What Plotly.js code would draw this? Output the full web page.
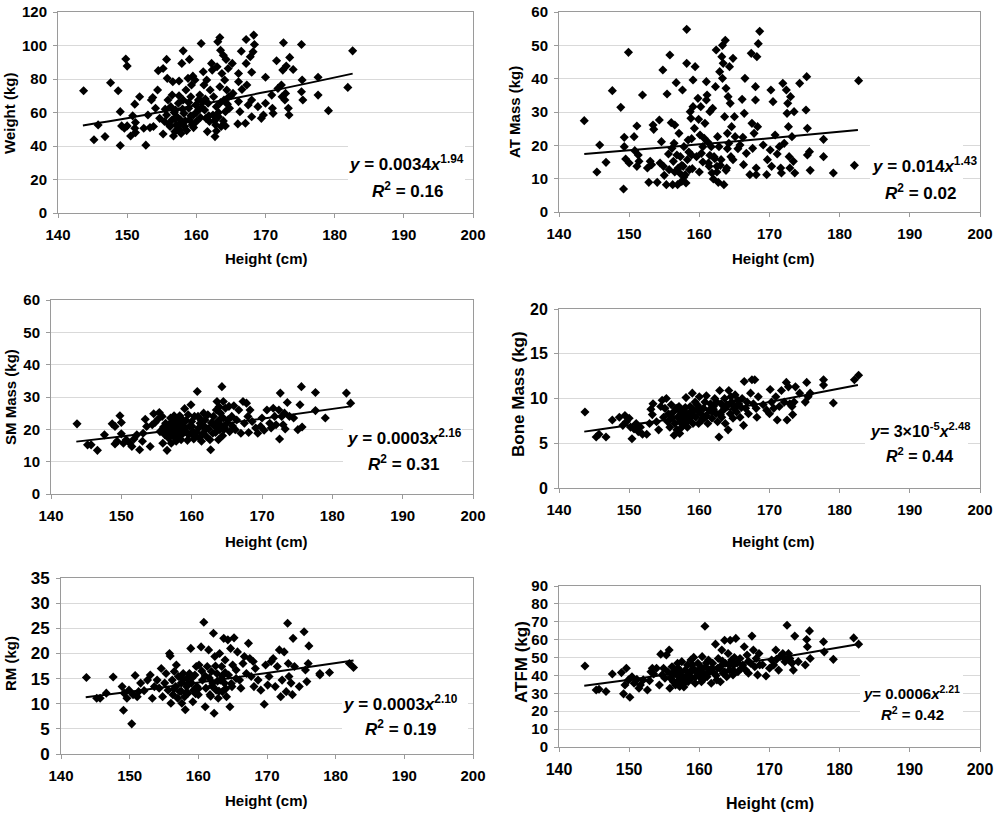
<!DOCTYPE html>
<html><head><meta charset="utf-8">
<script src="https://cdn.plot.ly/plotly-3.0.1.min.js"></script>
<style>html,body{margin:0;padding:0;background:#fff;} #chart{width:997px;height:816px;}</style>
</head><body><div id="chart"></div>
<script>
// ---------- Data ----------
const weightX = [143.7,145.2,145.8,146.8,147.6,148.7,149.0,149.0,149.2,149.8,150.0,149.6,150.0,150.5,150.8,151.1,151.1,151.2,151.2,151.8,152.4,152.7,153.0,153.3,153.5,153.7,153.8,154.1,154.4,154.5,154.7,155.2,155.2,155.4,155.7,155.7,155.8,155.9,156.2,156.3,156.5,156.5,156.6,156.7,156.9,157.0,157.1,157.2,157.4,157.5,157.6,157.7,157.8,157.9,158.1,158.1,158.2,158.3,158.5,158.6,158.8,158.9,159.0,159.0,159.2,159.3,159.4,159.5,159.6,159.8,159.9,160.0,160.3,160.3,160.5,160.7,160.8,161.0,161.1,161.2,161.4,161.5,161.6,161.7,161.9,162.0,162.2,162.3,162.4,162.5,162.7,162.8,162.9,163.0,163.1,163.2,163.4,163.4,163.5,163.6,163.7,163.9,164.0,164.1,164.2,164.3,164.4,164.6,164.7,164.8,165.2,165.3,166.1,166.1,166.1,166.0,166.3,166.5,166.6,167.1,167.2,167.2,167.3,167.5,167.8,168.0,168.0,168.0,168.2,168.3,168.4,168.9,169.4,169.7,170.0,170.0,170.9,171.0,171.1,171.6,171.8,172.3,172.4,172.5,172.6,172.8,172.9,173.0,173.3,173.4,173.5,174.0,175.2,175.2,175.3,175.4,177.6,177.6,179.1,181.9,182.6,
  157.3,157.8,158.4,158.0,157.0,156.0,159.2,160.0,160.8,161.3,162.6,163.2,163.9,164.5,165.0,159.6,156.8,158.9,161.8,162.9,164.2,160.6,155.5,157.5,163.5];
const weightY = [73,43.7,52.6,45.6,77.8,73,60.5,40.3,52,91.9,87.7,50.6,52,46,58,65,50.6,48,54,69.4,50.6,40.5,58.5,51,67.5,69,51.6,62.5,73.4,85,56.5,47.2,86.3,54.6,91.7,58.5,80.4,67.5,51.6,63.5,55.6,70.4,78.4,46,48.6,61.5,52.6,57.5,65.5,78.8,49.6,55.6,53.6,89.3,96.8,67.5,59.5,51.6,73.4,49.2,80.4,62.5,91.7,55.6,69.4,76.4,52.6,81.7,58.5,79.4,64.5,54.6,67.5,61.5,70.4,101.2,66.5,84.3,76.4,61.5,56.5,79.4,48.6,65.5,54.6,73.4,89.3,85.3,58.5,69.4,45.6,52.6,63.5,87.3,102.2,57.5,104.8,75.4,97.2,51.6,83.3,94.2,67.5,79.4,60.5,91.7,73.4,86.3,69.4,62.5,89.3,71.4,78.4,66.5,83.3,53.2,60.5,96.6,73.8,53.6,103.6,89.3,76.4,64.5,93.3,67.5,84,57.5,96.2,106.2,100.6,63.5,56.5,58.5,81,65.5,70.4,62.5,59.5,90.9,74.4,76.4,69.4,85.3,101.6,67.5,71.4,87.7,62.5,58.5,92.9,85.7,100.6,72.4,79.4,67.5,81,70.4,61.1,75,96.8,
  50,47.5,55,62,56,53,58,60,63,68,55,60,55,65,70,51,60,66,58,49,52,57,62,70,66];

const atX = [143.6,145.4,145.8,146.7,147.6,148.8,149.2,149.3,149.3,149.5,149.9,150.0,150.7,150.8,151.1,151.1,151.3,151.4,151.9,152.6,152.8,153.0,153.2,153.4,153.5,154.0,154.3,154.4,154.6,154.8,154.9,155.0,155.3,155.4,155.6,155.7,155.8,156.0,156.1,156.2,156.3,156.4,156.5,156.7,156.8,156.9,157.0,157.1,157.2,157.3,157.5,157.6,157.7,157.8,158.0,158.1,158.2,158.2,158.3,158.4,158.6,158.7,158.8,158.9,159.1,159.1,159.3,159.4,159.6,159.8,159.9,160.0,160.1,160.2,160.3,160.5,160.7,160.8,161.0,161.0,161.1,161.3,161.4,161.5,161.7,161.8,161.9,162.0,162.1,162.3,162.4,162.5,162.6,162.7,162.8,162.9,163.1,163.2,163.3,163.3,163.4,163.5,163.6,163.7,163.8,163.9,164.0,164.1,164.2,164.3,164.4,164.5,164.6,164.8,164.8,165.0,165.1,165.8,166.1,166.2,166.3,166.4,166.5,166.7,167.2,167.4,167.5,167.6,167.8,168.0,168.0,168.1,168.2,168.3,168.4,168.6,168.1,169.1,169.6,169.7,170.1,170.2,170.3,170.5,170.8,171.1,171.4,171.6,171.7,171.9,172.1,172.4,172.5,172.6,172.7,172.8,172.9,173.0,173.2,173.4,173.5,173.6,174.3,175.2,175.3,175.4,175.4,175.7,175.8,177.7,177.7,179.1,182.1,182.7,
  156.5,157.5,158.5,159.0,160.5,161.5,162.5,163.0,164.0,157.8,162.2,161.2,158.9,163.8,165.5];
const atY = [27.4,12,20.1,14.9,36.4,31.4,6.9,19.6,22.4,15.9,47.9,14.7,22.6,18.4,25.8,13.7,17.1,15.2,35.1,13.2,8.9,15.2,14.2,26.1,24.8,8.9,27.6,14.7,21.1,42.6,13.7,11,8.2,35.4,17.4,12.7,47.1,26.8,19.1,8.2,15.2,20.6,26.1,38.8,17.1,8.2,13.2,23.6,11.7,16.6,9.2,36.6,13.7,19.6,11.2,8.7,54.8,44.6,15.7,21.6,12.7,30.1,28.1,17.1,39.6,31.6,25.1,43.6,16.6,34.1,27.8,12,23.1,31.6,17.6,19.6,22.1,26.6,33.6,39.1,35.1,14.7,13.7,30.1,19.6,11.7,31.1,9.9,16.6,37.6,48.6,13.7,22.6,8.9,19.6,42.1,15.7,46.6,50.0,40.1,44.6,8.2,28.6,51.5,37.1,13.2,23.6,34.6,20.6,43.6,32.6,16.6,25.6,15.7,46.1,28.6,22.6,20.1,33.8,22.4,14.2,29.6,40.1,17.6,11.2,47.6,26.6,19.1,23.6,33.6,37.6,11.2,46.6,25.6,50.5,54.2,13.2,20.1,11.2,15.7,18.6,36.6,13.7,33.1,23.1,17.4,19.6,13.2,11.7,38.6,20.6,36.6,29.6,32.6,25.6,16.6,13.2,34.6,22.6,15.2,30.1,11.7,38.6,30.6,40.6,17.1,25.1,18.1,12.5,21.8,16.6,11.7,14.0,39.4,
  12,14,18,13,15,17,12,14,19,10.5,16,21,22,12.5,19];

const smX = [143.7,145.2,145.7,146.6,147.6,148.7,149.1,149.1,149.4,149.8,150.0,150.0,150.3,150.7,151.2,151.5,151.8,152.2,152.6,153.0,153.1,153.4,153.6,154.1,154.4,154.6,154.8,155.2,155.4,155.5,155.8,155.9,156.0,156.2,156.3,156.5,156.6,156.7,156.9,157.0,157.1,157.2,157.3,157.4,157.5,157.7,157.8,157.9,158.1,158.2,158.3,158.4,158.5,158.6,158.8,159.0,159.1,159.2,159.4,159.6,159.7,159.9,160.0,160.2,160.4,160.5,160.8,160.9,161.0,161.1,161.2,161.4,161.6,161.8,161.9,162.1,162.3,162.4,162.6,162.7,162.9,163.0,163.1,163.3,163.5,163.6,163.7,163.8,164.0,164.1,164.2,164.3,164.5,164.5,164.7,164.8,165.0,165.3,165.4,165.7,166.0,166.2,166.4,166.7,167.0,167.3,167.5,167.8,168.0,168.1,168.3,168.6,169.1,169.4,169.8,170.0,170.3,170.7,171.1,171.3,171.6,171.8,172.0,172.4,172.5,172.6,172.8,173.0,173.2,173.3,173.6,173.9,174.5,175.1,175.4,175.6,175.7,177.6,177.6,179.0,182.0,182.6,
  156.0,156.8,157.5,158.0,158.7,159.3,160.0,160.7,161.3,162.0,162.8,163.4,164.0,164.6,165.2,157.8,159.5,161.7,163.9,165.8,163.2,164.4,160.3,158.9,157.0];
const smY = [21.7,15.2,15.2,13.5,18.3,21.7,20.9,15.5,16.3,24.2,22.1,18.6,15.7,16.8,15.7,14.7,17,18.3,13.7,16.3,18.8,23.1,20.9,14.7,21.4,24.8,22.1,23.1,25.2,19.3,24,15.7,20.7,18.3,21.9,13.5,19.9,17.3,21.4,18.8,15.7,22.4,20.4,17.8,24.2,21.1,16.3,19.3,22.4,17.8,24.2,20.1,16.8,21.7,18.8,26.4,20.4,22.7,16.6,18.3,20.9,27.6,22.4,19.3,24,17.8,31.7,24,20.4,17.3,21.9,16.3,18.8,20.9,22.9,17.8,24.5,20.1,16.8,13.7,21.9,18.8,24,20.9,26,28.6,22.4,16.8,19.9,25,21.2,33.2,28.6,23.5,20.4,26.5,21.9,27.1,19.3,24,27.3,19.9,22.9,26,18.8,28.6,21.9,28.1,24,19,26,22.4,20.4,18.8,20.9,23.5,19.7,26,21.9,20.4,26.5,24,21.4,26,17,31.2,24,21.4,25,20.1,28.3,24,23.5,19.9,27.6,33.2,20.7,31.4,25.8,23.5,31.2,28.1,
  19,21,19,21,23,19,21,19,23,20,22,19,23,20,23,23,24.5,25,27,21,21.5,18,17,20,23.5];

const boneX = [143.7,145.3,145.7,146.7,147.6,148.6,149.1,149.4,149.6,150.0,150.2,150.4,150.7,151.0,151.3,151.6,151.9,152.5,152.9,153.1,153.3,153.4,153.9,154.2,154.5,154.7,154.9,155.1,155.3,155.5,155.6,155.8,156.0,156.1,156.3,156.4,156.5,156.7,156.8,156.9,157.1,157.2,157.2,157.4,157.5,157.7,157.8,158.0,158.1,158.2,158.3,158.5,158.7,158.8,159.0,159.1,159.2,159.4,159.5,159.7,159.9,160.0,160.2,160.4,160.6,160.8,160.9,161.0,161.2,161.4,161.6,161.8,162.0,162.2,162.4,162.6,162.8,162.9,163.1,163.2,163.4,163.6,163.7,163.9,164.1,164.2,164.4,164.6,164.8,164.9,165.1,165.3,165.6,165.8,166.1,166.3,166.4,166.6,166.8,167.0,167.3,167.5,167.7,167.9,168.1,168.2,168.4,169.1,169.6,170.0,170.1,170.3,170.6,170.9,171.1,171.4,171.7,172.1,172.4,172.5,172.7,172.9,173.2,173.3,173.5,173.7,174.3,175.1,175.3,175.5,175.8,177.7,177.7,179.1,182.1,182.7,
  156.0,157.0,158.0,159.0,160.0,161.0,162.0,163.0,164.0,165.0,157.6,160.5,162.5,164.5,166.0,158.6,161.8,163.6,165.5,159.8];
const boneY = [8.5,5.7,6.0,5.7,7.6,7.9,7.0,8.1,7.4,7.8,6.8,5.5,6.6,7.2,6.3,6.8,6.0,6.0,7.2,8.8,8.2,9.4,7.4,6.5,9.1,9.8,7.9,8.9,10.0,7.4,8.3,6.8,9.3,7.8,8.5,5.9,7.2,8.9,6.5,7.9,9.1,7.4,6.1,8.3,6.8,7.8,8.7,7.2,10.1,8.1,6.8,7.6,9.1,7.9,10.6,7.2,8.7,9.6,7.9,9.3,7.2,10.2,8.3,7.6,8.9,9.6,7.9,10.3,7.2,8.7,9.4,7.8,9.1,10.0,8.3,7.4,5.7,10.9,9.4,7.9,8.7,10.0,7.2,9.3,6.5,10.9,8.3,9.6,7.8,9.1,10.4,8.5,9.4,7.9,10.0,7.0,11.9,8.9,9.6,8.3,10.6,12.1,9.4,12.1,8.9,7.9,10.2,9.3,8.7,8.3,11.0,9.6,8.9,10.2,7.6,9.1,10.9,9.6,11.8,7.6,11.3,9.4,9.1,8.2,9.6,11.3,10.6,9.6,11.8,10.2,10.6,12.1,11.5,9.5,12.1,12.6,
  8,8.8,9,8.2,9,8.1,8.8,8.2,9.2,8.8,7.6,7.8,9.6,10.2,9,8.4,8.5,8.9,9.8,8.6];

const rmX = [143.7,145.2,145.7,146.6,147.6,148.9,149.1,149.2,149.6,149.9,150.3,150.5,150.8,151.1,151.3,151.6,152.1,152.6,153.0,153.3,153.6,154.0,154.3,154.6,154.8,155.1,155.3,155.6,155.8,155.9,156.0,156.2,156.3,156.5,156.7,156.8,157.0,157.1,157.3,157.5,157.6,157.8,158.0,158.1,158.3,158.4,158.5,158.7,158.9,159.0,159.2,159.3,159.5,159.7,159.8,160.0,160.1,160.4,160.6,160.8,161.0,161.1,161.3,161.5,161.6,161.7,161.9,162.1,162.2,162.3,162.4,162.6,162.7,162.9,163.1,163.2,163.4,163.5,163.7,163.8,163.9,164.1,164.3,164.4,164.6,164.7,164.9,165.0,165.2,165.5,165.7,166.0,166.2,166.5,166.7,167.0,167.3,167.5,167.7,168.0,168.1,168.3,168.7,169.1,169.6,169.8,170.1,170.3,170.6,170.9,171.2,171.5,171.8,172.0,172.2,172.5,172.8,173.0,173.1,173.2,173.5,173.7,173.8,174.0,174.7,175.4,175.6,175.8,176.0,176.1,177.7,177.7,179.1,182.0,182.6,
  156.5,157.5,158.5,159.0,160.0,161.0,162.0,162.8,163.5,164.0,157.8,160.5,163.0,164.8,159.6,161.8,158.2,162.5,165.5,163.9];
const rmY = [15.2,11.1,11.1,12.1,15.3,13.4,8.7,12.1,11.1,12.7,6.0,11.8,15.6,11.4,12.4,14.1,12.6,14.7,15.7,11.1,13.4,14.7,13.1,17.0,11.4,14.1,16.0,12.7,20.0,19.5,10.1,14.7,11.8,16.4,13.4,17.7,11.1,15.4,12.4,14.1,10.1,16.0,11.4,8.8,13.4,15.1,12.1,16.0,21.0,14.1,10.4,12.7,15.7,17.4,13.4,11.8,17.7,21.3,14.7,26.2,9.4,13.1,17.4,20.7,15.1,11.8,16.4,14.1,24.0,8.1,19.4,12.7,16.0,11.1,20.0,14.7,17.4,12.4,23.0,14.1,18.7,11.4,22.7,15.7,9.4,21.0,13.4,17.7,23.1,16.7,20.3,14.7,13.1,18.0,19.4,16.0,22.0,19.0,15.4,18.4,13.4,17.0,14.7,12.7,9.9,17.7,13.7,15.4,18.4,19.0,13.4,17.4,20.7,11.4,14.7,20.3,12.4,26.0,18.0,15.4,14.1,11.8,23.0,17.4,13.4,24.3,16.7,14.4,18.0,21.5,16.0,15.7,16.2,18.0,17.2,
  13,12.5,14,15,13,15.5,13.5,14.5,15.5,13,14.8,16.5,12.5,14,12,11.5,12.2,17.5,15,16.2];

const atfmX = [143.7,145.3,145.7,146.7,147.6,148.9,149.2,149.4,149.6,149.9,150.1,150.4,150.7,151.1,151.4,151.6,152.0,152.6,152.9,153.1,153.3,153.5,153.9,154.3,154.5,154.7,154.9,155.1,155.3,155.5,155.7,155.8,156.0,156.1,156.3,156.4,156.6,156.8,156.9,157.1,157.2,157.3,157.5,157.6,157.8,158.0,158.1,158.3,158.4,158.6,158.8,158.9,159.1,159.2,159.4,159.6,159.8,160.0,160.2,160.4,160.6,160.8,160.9,161.1,161.3,161.5,161.7,161.9,162.1,162.3,162.5,162.7,162.9,163.0,163.2,163.4,163.6,163.7,163.9,164.1,164.3,164.4,164.6,164.8,164.9,165.2,165.5,165.8,166.2,166.4,166.6,166.8,167.0,167.3,167.5,167.7,167.9,168.1,168.3,168.5,168.6,169.5,170.0,170.3,170.6,170.9,171.3,171.5,171.9,172.2,172.5,172.7,172.9,173.2,173.4,173.6,174.1,175.1,175.3,175.4,175.7,175.8,177.7,177.8,179.1,182.0,182.7,
  156.0,156.8,157.5,158.2,158.8,159.4,160.0,160.6,161.2,161.8,162.4,163.0,163.6,164.2,164.8,165.4,166.0,157.0,159.0,161.0,163.3,165.0,167.0,169.0,171.0,172.0,173.0,157.8,160.3,162.6];
const atfmY = [45.3,31.9,32.3,31.0,40.8,41.6,29.7,34.7,44.0,37.5,27.8,39.3,35.6,37.8,32.8,34.7,37.5,31.9,37.1,42.1,44.0,40.8,44.0,34.7,51.9,40.3,44.0,38.4,51.4,42.1,54.2,32.8,39.3,44.9,36.5,42.1,34.7,40.3,46.8,37.5,33.8,42.1,47.7,38.4,35.6,43.0,39.3,45.8,36.5,41.2,48.6,38.4,44.0,50.1,35.6,42.1,46.8,39.3,44.9,50.5,41.2,67.5,44.9,39.3,48.6,43.0,35.6,46.8,41.2,57.5,37.5,49.5,44.0,36.5,54.2,41.2,59.7,46.8,39.3,52.3,43.0,59.7,48.6,40.3,45.8,60.7,42.1,49.5,45.8,56.0,43.0,51.4,41.2,46.8,62.0,54.2,44.9,49.5,40.3,52.3,45.8,39.7,44.0,48.6,45.8,54.2,43.0,50.5,52.3,47.7,68.1,52.3,49.5,46.8,43.0,62.0,47.7,45.8,60.1,56.0,64.9,49.5,58.8,53.2,49.0,61.0,57.5,
  38,36,40,37,42,39,43,38,41,44,40,45,42,46,43,47,44,44,46,47,48,50,48,46,49,50,48,33.5,36.5,44];

// fitted power-law trend lines
const trendX = [143.6,150,160,170,182.6];
const weightTrend = [52.3,56.6,64.3,72.2,83.2];
const atTrend = [17.4,18.5,20.3,22.1,24.6];
const smTrend = [16.2,17.8,20.5,23.3,27.1];
const boneTrend = [6.3,7.0,8.2,9.6,11.5];
const rmTrend = [11.3,12.4,14.2,16.1,18.6];
const atfmTrend = [34.2,37.6,43.2,49.2,57.5];

const xTickVals = [140,150,160,170,180,190,200];

// ---------- Layout ----------
const W = 997, H = 816;
const FONT = 'Liberation Sans, Arial, Helvetica, sans-serif';
const panels = [
  {x:weightX, y:weightY, t:weightTrend, ymax:120, dy:20, ytitle:'Weight (kg)', ytSize:15, ytPos:[10,114], yTick:15, xTick:15,
   px:[58,473,12,213], xtPos:[266,258], xtSize:15,
   eq:['<b><i>y</i> = 0.0034<i>x</i><sup>1.94</sup></b>','<b><i>R</i><sup>2</sup> = 0.16</b>'], eqPos:[[406,163],[407,190]], eqSize:17, box:[348,465,132,205]},
  {x:atX, y:atY, t:atTrend, ymax:60, dy:10, ytitle:'AT Mass (kg)', ytSize:15, ytPos:[515,112], yTick:15, xTick:15,
   px:[559,980,12,212], xtPos:[773,258], xtSize:15,
   eq:['<b><i>y</i> = 0.014<i>x</i><sup>1.43</sup></b>','<b><i>R</i><sup>2</sup> = 0.02</b>'], eqPos:[[924,165],[920,192]], eqSize:17, box:[870,963,125,205]},
  {x:smX, y:smY, t:smTrend, ymax:60, dy:10, ytitle:'SM Mass (kg)', ytSize:15, ytPos:[10,397], yTick:15, xTick:15,
   px:[51,473,300,494], xtPos:[266,541], xtSize:15,
   eq:['<b><i>y</i> = 0.0003<i>x</i><sup>2.16</sup></b>','<b><i>R</i><sup>2</sup> = 0.31</b>'], eqPos:[[404,437],[403,463]], eqSize:17, box:[343,462,412,482]},
  {x:boneX, y:boneY, t:boneTrend, ymax:20, dy:5, ytitle:'Bone Mass (kg)', ytSize:17, ytPos:[518,394], yTick:16, xTick:15,
   px:[559,980,309,488], xtPos:[773,541], xtSize:15,
   eq:['<b><i>y</i>= 3×10<sup>-5</sup><i>x</i><sup>2.48</sup></b>','<b><i>R</i><sup>2</sup> = 0.44</b>'], eqPos:[[920,430],[919,455]], eqSize:16, box:[865,968,415,472]},
  {x:rmX, y:rmY, t:rmTrend, ymax:35, dy:5, ytitle:'RM (kg)', ytSize:15, ytPos:[10,664], yTick:17, xTick:15,
   px:[61,473,578,754], xtPos:[266,800], xtSize:15,
   eq:['<b><i>y</i> = 0.0003<i>x</i><sup>2.10</sup></b>','<b><i>R</i><sup>2</sup> = 0.19</b>'], eqPos:[[400,703],[400,728]], eqSize:17, box:[342,468,688,745]},
  {x:atfmX, y:atfmY, t:atfmTrend, ymax:90, dy:10, ytitle:'ATFM (kg)', ytSize:17, ytPos:[521,662], yTick:15, xTick:16,
   px:[559,980,586,747], xtPos:[770,803], xtSize:16,
   eq:['<b><i>y</i>= 0.0006<i>x</i><sup>2.21</sup></b>','<b><i>R</i><sup>2</sup> = 0.42</b>'], eqPos:[[911,692],[912,713]], eqSize:15, box:[860,963,668,722]}
];

const traces = [];
const layout = {
  width: W, height: H, margin:{l:0,r:0,t:0,b:0},
  paper_bgcolor:'#fff', plot_bgcolor:'#fff', showlegend:false,
  font:{family:FONT, color:'#000'},
  annotations:[], shapes:[]
};
const px2x = p => p / W;
const px2y = p => 1 - p / H;

panels.forEach((p, i) => {
  const n = i + 1;
  const xs = n === 1 ? 'x' : 'x' + n;
  const ys = n === 1 ? 'y' : 'y' + n;
  const xk = n === 1 ? 'xaxis' : 'xaxis' + n;
  const yk = n === 1 ? 'yaxis' : 'yaxis' + n;
  const [l, r, t, b] = p.px;
  layout[xk] = {
    domain:[px2x(l), px2x(r)], anchor: ys, range:[140,200], tickmode:'array', tickvals:xTickVals,
    showgrid:false, zeroline:false, showline:true, mirror:true, linecolor:'#9a9a9a', linewidth:1,
    ticks:'outside', ticklen:4, tickcolor:'#9a9a9a', ticklabelstandoff:4,
    tickfont:{family:FONT, size:p.xTick, color:'#000', weight:700}, fixedrange:true
  };
  const yt = [];
  for (let v = 0; v <= p.ymax + 1e-9; v += p.dy) yt.push(v);
  layout[yk] = {
    domain:[px2y(b), px2y(t)], anchor: xs, range:[0,p.ymax], tickmode:'array', tickvals:yt,
    showgrid:true, gridcolor:'#d9d9d9', gridwidth:1, zeroline:false, showline:true, mirror:true,
    linecolor:'#9a9a9a', linewidth:1, ticks:'outside', ticklen:4, tickcolor:'#9a9a9a', ticklabelstandoff:3,
    tickfont:{family:FONT, size:p.yTick, color:'#000', weight:700}, fixedrange:true
  };
  traces.push({
    type:'scatter', mode:'markers', x:p.x, y:p.y, xaxis:xs, yaxis:ys,
    marker:{symbol:'diamond', size:7, color:'#000', line:{width:0}}, hoverinfo:'skip'
  });
  traces.push({
    type:'scatter', mode:'lines', x:trendX, y:p.t, xaxis:xs, yaxis:ys,
    line:{color:'#000', width:2, shape:'spline'}, hoverinfo:'skip'
  });
  // white box behind the equation
  layout.shapes.push({type:'rect', xref:'paper', yref:'paper',
    x0:px2x(p.box[0]), x1:px2x(p.box[1]), y0:px2y(p.box[3]), y1:px2y(p.box[2]),
    fillcolor:'#fff', line:{width:0}, layer:'above'});
  // equation lines
  p.eq.forEach((txt, k) => {
    layout.annotations.push({xref:'paper', yref:'paper', x:px2x(p.eqPos[k][0]), y:px2y(p.eqPos[k][1]),
      xanchor:'center', yanchor:'middle', showarrow:false, text:txt,
      font:{family:FONT, size:p.eqSize, color:'#000'}});
  });
  // axis titles
  layout.annotations.push({xref:'paper', yref:'paper', x:px2x(p.xtPos[0]), y:px2y(p.xtPos[1]),
    xanchor:'center', yanchor:'middle', showarrow:false, text:'<b>Height (cm)</b>',
    font:{family:FONT, size:p.xtSize, color:'#000'}});
  layout.annotations.push({xref:'paper', yref:'paper', x:px2x(p.ytPos[0]), y:px2y(p.ytPos[1]),
    xanchor:'center', yanchor:'middle', showarrow:false, textangle:-90, text:'<b>' + p.ytitle + '</b>',
    font:{family:FONT, size:p.ytSize, color:'#000'}});
});

Plotly.newPlot('chart', traces, layout, {staticPlot:true, displayModeBar:false});
</script>
</body></html>
